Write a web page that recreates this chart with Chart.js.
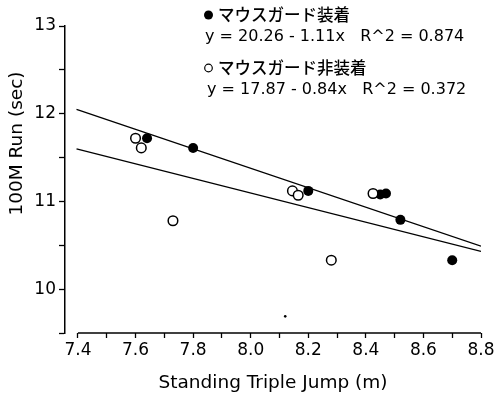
<!DOCTYPE html>
<html>
<head>
<meta charset="utf-8">
<script src="https://cdn.jsdelivr.net/npm/chart.js@4"></script>
<style>
html,body{margin:0;padding:0;background:#fff;}
#c{display:block;}
</style>
</head>
<body>
<canvas id="c" width="498" height="395"></canvas>
<script>
// ---- data ----
const withGuardX = [7.64, 7.80, 8.20, 8.45, 8.47, 8.52, 8.70];
const withGuardY = [11.72, 11.61, 11.12, 11.08, 11.09, 10.79, 10.33];
const withoutGuardX = [7.60, 7.62, 7.73, 8.145, 8.165, 8.28, 8.425];
const withoutGuardY = [11.72, 11.61, 10.78, 11.12, 11.07, 10.33, 11.09];
const fitWithX = [7.395, 8.8];
const fitWithY = [12.05, 10.49];
const fitWithoutX = [7.395, 8.8];
const fitWithoutY = [11.60, 10.43];
const strayX = [8.12];
const strayY = [9.69];
const xTicks = [7.4,7.5,7.6,7.7,7.8,7.9,8.0,8.1,8.2,8.3,8.4,8.5,8.6,8.7,8.8];
const xLabelTicks = [7.4,7.6,7.8,8.0,8.2,8.4,8.6,8.8];
const yTicks = [9.5,10,10.5,11,11.5,12,12.5,13];
const yLabelTicks = [10,11,12,13];
const legendLines = [
  {sym:'filled', text:'マウスガード装着'},
  {text:'y = 20.26 - 1.11x   R^2 = 0.874'},
  {sym:'open', text:'マウスガード非装着'},
  {text:'y = 17.87 - 0.84x   R^2 = 0.372'}
];
const xTitle = 'Standing Triple Jump (m)';
const yTitle = '100M Run (sec)';

const pts = (xs, ys) => xs.map((x,i)=>({x, y: ys[i]}));
const FONT = '"DejaVu Sans", "Noto Sans CJK JP", sans-serif';
const JFONT = '"Noto Sans CJK JP", sans-serif';

const annot = {
  id:'annot',
  afterDraw(chart){
    const ctx = chart.ctx;
    const xs = chart.scales.x, ys = chart.scales.y;
    ctx.save();
    // x axis line from 7.4 to 8.8
    ctx.strokeStyle = '#000'; ctx.lineWidth = 1.5;
    ctx.beginPath();
    const yb = ys.getPixelForValue(ys.min);
    ctx.moveTo(xs.getPixelForValue(xTicks[0]), yb);
    ctx.lineTo(xs.getPixelForValue(xTicks[xTicks.length-1]), yb);
    ctx.stroke();
    // y axis title
    ctx.save();
    ctx.translate(17, 143.5);
    ctx.rotate(-Math.PI/2);
    ctx.fillStyle = '#000';
    ctx.font = '18.5px ' + FONT;
    ctx.textAlign = 'center';
    ctx.textBaseline = 'middle';
    ctx.fillText(yTitle, 0, 0);
    ctx.restore();
    // legend text
    const rows = [
      {x:204, y:15},{x:205, y:37},{x:204, y:68},{x:207, y:90}
    ];
    ctx.fillStyle = '#000';
    ctx.textBaseline = 'middle';
    legendLines.forEach((l,i)=>{
      const r = rows[i];
      let tx = r.x;
      if (l.sym){
        ctx.beginPath();
        if (l.sym==='filled'){ ctx.arc(r.x+4.5, r.y, 4.5, 0, Math.PI*2); ctx.fill(); }
        else { ctx.lineWidth = 1.2; ctx.arc(r.x+4.5, r.y, 3.8, 0, Math.PI*2); ctx.stroke(); }
        tx = r.x + 14;
        ctx.font = '500 16.5px ' + JFONT;
      } else {
        ctx.font = '16px ' + FONT;
      }
      ctx.fillText(l.text, tx, r.y);
    });
    ctx.restore();
  }
};

new Chart(document.getElementById('c'), {
  type:'scatter',
  data:{
    datasets:[
      {label:'fitWith', type:'line', data:pts(fitWithX, fitWithY), borderColor:'#000', borderWidth:1.3, pointRadius:0, fill:false},
      {label:'fitWithout', type:'line', data:pts(fitWithoutX, fitWithoutY), borderColor:'#000', borderWidth:1.3, pointRadius:0, fill:false},
      {label:'マウスガード非装着', data:pts(withoutGuardX, withoutGuardY), pointRadius:4.8, pointBackgroundColor:'#fff', pointBorderColor:'#000', pointBorderWidth:1.5},
      {label:'マウスガード装着', data:pts(withGuardX, withGuardY), pointRadius:5, pointBackgroundColor:'#000', pointBorderColor:'#000', pointBorderWidth:0},
      {label:'dot', data:pts(strayX, strayY), pointRadius:1.3, pointBackgroundColor:'#000', pointBorderWidth:0}
    ]
  },
  options:{
    responsive:false,
    devicePixelRatio:1,
    animation:false,
    layout:{padding:{top:26, right:17, left:0, bottom:0}},
    plugins:{legend:{display:false}, tooltip:{enabled:false}},
    scales:{
      x:{
        type:'linear', min:7.355, max:8.8,
        afterFit(s){ s.height = 62; },
        afterBuildTicks(s){ s.ticks = xTicks.map(v=>({value:v})); },
        border:{display:false},
        grid:{drawOnChartArea:false, drawTicks:true, tickLength:5, tickColor:'#000', tickWidth:1.3},
        ticks:{
          color:'#000', padding:2, maxRotation:0, autoSkip:false,
          font:{family:FONT, size:17},
          callback(v){ const m = xLabelTicks.find(t=>Math.abs(t-v)<1e-6); return m===undefined ? '' : m.toFixed(1); }
        },
        title:{display:true, text:xTitle, color:'#000', font:{family:FONT, size:18.5}, padding:{top:0, bottom:1}}
      },
      y:{
        type:'linear', min:9.5, max:13,
        afterFit(s){ s.width = 65; },
        afterBuildTicks(s){ s.ticks = yTicks.map(v=>({value:v})); },
        border:{display:true, color:'#000', width:1.5},
        grid:{drawOnChartArea:false, drawTicks:true, tickLength:6, tickColor:'#000', tickWidth:1.3},
        ticks:{
          color:'#000', padding:3, autoSkip:false,
          font:{family:FONT, size:17},
          callback(v){ const m = yLabelTicks.find(t=>Math.abs(t-v)<1e-6); return m===undefined ? '' : String(m); }
        },
        title:{display:false}
      }
    }
  },
  plugins:[annot]
});
</script>
</body>
</html>
